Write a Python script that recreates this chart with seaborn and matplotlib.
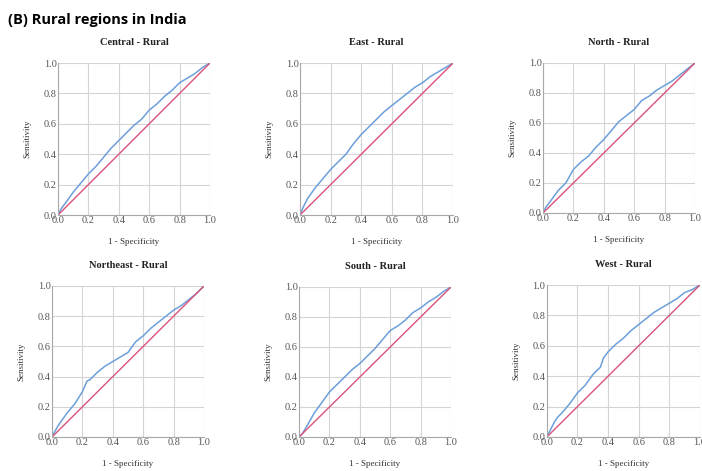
import pandas as pd
import matplotlib
matplotlib.use("Agg")
import matplotlib.pyplot as plt
import seaborn as sns

# ROC curves (1 - specificity vs sensitivity)
central_x = [0, 0.02, 0.05, 0.1, 0.15, 0.2, 0.25, 0.3, 0.35, 0.4, 0.45, 0.5, 0.55, 0.6, 0.65, 0.7, 0.75, 0.8, 0.85, 0.9, 0.95, 1.0]
central_y = [0, 0.04, 0.08, 0.15, 0.21, 0.27, 0.32, 0.38, 0.44, 0.49, 0.54, 0.59, 0.63, 0.69, 0.73, 0.78, 0.82, 0.87, 0.90, 0.93, 0.97, 1.0]

east_x = [0, 0.02, 0.05, 0.1, 0.15, 0.2, 0.25, 0.3, 0.35, 0.4, 0.45, 0.5, 0.55, 0.6, 0.65, 0.7, 0.75, 0.8, 0.85, 0.9, 0.95, 1.0]
east_y = [0, 0.05, 0.11, 0.18, 0.24, 0.30, 0.35, 0.40, 0.47, 0.53, 0.58, 0.63, 0.68, 0.72, 0.76, 0.80, 0.84, 0.87, 0.91, 0.94, 0.97, 1.0]

north_x = [0, 0.02, 0.05, 0.1, 0.15, 0.2, 0.25, 0.3, 0.35, 0.4, 0.45, 0.5, 0.55, 0.6, 0.65, 0.7, 0.75, 0.8, 0.85, 0.9, 0.95, 1.0]
north_y = [0, 0.04, 0.08, 0.15, 0.20, 0.29, 0.34, 0.38, 0.44, 0.49, 0.55, 0.61, 0.65, 0.69, 0.75, 0.78, 0.82, 0.85, 0.88, 0.92, 0.96, 1.0]

northeast_x = [0, 0.02, 0.05, 0.1, 0.15, 0.2, 0.23, 0.25, 0.3, 0.35, 0.4, 0.45, 0.5, 0.55, 0.6, 0.65, 0.7, 0.75, 0.8, 0.85, 0.9, 0.95, 1.0]
northeast_y = [0, 0.04, 0.09, 0.16, 0.22, 0.30, 0.37, 0.38, 0.43, 0.47, 0.50, 0.53, 0.56, 0.63, 0.67, 0.72, 0.76, 0.80, 0.84, 0.87, 0.91, 0.95, 1.0]

south_x = [0, 0.02, 0.05, 0.1, 0.15, 0.2, 0.25, 0.3, 0.35, 0.4, 0.45, 0.5, 0.55, 0.6, 0.65, 0.7, 0.75, 0.8, 0.85, 0.9, 0.95, 1.0]
south_y = [0, 0.02, 0.07, 0.16, 0.23, 0.30, 0.35, 0.40, 0.45, 0.49, 0.54, 0.59, 0.65, 0.71, 0.74, 0.78, 0.83, 0.86, 0.90, 0.93, 0.97, 1.0]

west_x = [0, 0.02, 0.05, 0.07, 0.1, 0.15, 0.2, 0.25, 0.3, 0.35, 0.37, 0.4, 0.45, 0.5, 0.55, 0.6, 0.65, 0.7, 0.75, 0.8, 0.85, 0.9, 0.95, 1.0]
west_y = [0, 0.04, 0.10, 0.13, 0.16, 0.22, 0.29, 0.34, 0.41, 0.46, 0.52, 0.56, 0.61, 0.65, 0.70, 0.74, 0.78, 0.82, 0.85, 0.88, 0.91, 0.95, 0.97, 1.0]

regions = ["Central", "East", "North", "Northeast", "South", "West"]
curves = {
    "Central": (central_x, central_y),
    "East": (east_x, east_y),
    "North": (north_x, north_y),
    "Northeast": (northeast_x, northeast_y),
    "South": (south_x, south_y),
    "West": (west_x, west_y),
}
diagonal = [0.0, 1.0]
ticks = [0.0, 0.2, 0.4, 0.6, 0.8, 1.0]
tick_labels = ["0.0", "0.2", "0.4", "0.6", "0.8", "1.0"]

# axes boxes in figure fractions (left, bottom, width, height)
boxes = {
    "Central": (0.0826, 0.5435, 0.2165, 0.3227),
    "East": (0.4274, 0.5435, 0.2180, 0.3227),
    "North": (0.7735, 0.5478, 0.2165, 0.3185),
    "Northeast": (0.0741, 0.0722, 0.2165, 0.3206),
    "South": (0.4260, 0.0722, 0.2165, 0.3185),
    "West": (0.7790, 0.0722, 0.2180, 0.3227),
}

sns.set_theme(style="whitegrid")
plt.rcParams["font.family"] = ["Liberation Serif", "DejaVu Serif"]

fig = plt.figure(figsize=(7.02, 4.71), dpi=100)
fig.patch.set_facecolor("white")

fig.text(0.011, 0.957, "(B) Rural regions in India", family="Open Sans",
         fontweight="bold", fontsize=10.5, ha="left", va="center", color="black")

for name in regions:
    ax = fig.add_axes(boxes[name])
    xs, ys = curves[name]
    df = pd.DataFrame({"fpr": xs, "tpr": ys})
    sns.lineplot(data=df, x="fpr", y="tpr", ax=ax, color="#6b9fdb",
                 linewidth=1.1, estimator=None, sort=False)
    sns.lineplot(x=diagonal, y=diagonal, ax=ax, color="#d9527a", linewidth=1.0)
    ax.set_xlim(0, 1)
    ax.set_ylim(0, 1)
    ax.set_xticks(ticks)
    ax.set_yticks(ticks)
    ax.set_xticklabels(tick_labels)
    ax.set_yticklabels(tick_labels)
    ax.tick_params(axis="both", labelsize=7.5, colors="#555555", length=0, pad=1)
    ax.grid(True, color="#d4d4d4", linewidth=0.8)
    for side in ["top", "right"]:
        ax.spines[side].set_visible(False)
    for side in ["left", "bottom"]:
        ax.spines[side].set_color("#a8a8a8")
        ax.spines[side].set_linewidth(0.8)
    ax.set_title(f"{name} - Rural", fontsize=7.5, fontweight="bold", pad=13,
                 color="#222222")
    ax.set_xlabel("1 - Specificity", fontsize=6.5, color="#333333", labelpad=9)
    ax.set_ylabel("Sensitivity", fontsize=6.5, color="#333333", labelpad=9)

plt.savefig("out.png", dpi=100)
